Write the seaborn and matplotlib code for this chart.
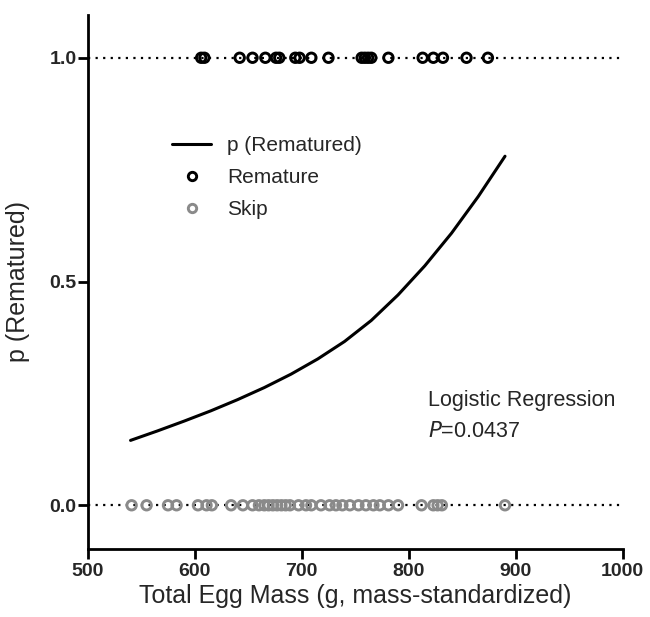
import numpy as np
import pandas as pd
import matplotlib
matplotlib.use("Agg")
import matplotlib.pyplot as plt
import seaborn as sns
from matplotlib.lines import Line2D

# Total egg mass (g, mass-standardized) for each female
remature_mass = [606, 609, 642, 654, 666, 676, 679, 694, 698, 709, 725,
                 756, 759, 762, 765, 781, 813, 823, 832, 854, 874]
skip_mass = [541, 555, 575, 583, 603, 611, 616, 634, 645, 654, 660, 665,
             669, 673, 677, 681, 685, 689, 697, 704, 709, 718, 726, 732,
             738, 745, 753, 760, 767, 773, 781, 790, 812, 823, 827, 831, 890]

# Fitted probability of rematuring along the observed mass range
fit_mass = [540, 565, 590, 615, 640, 665, 690, 715, 740, 765, 790, 815,
            840, 865, 890]
fit_p = [0.145, 0.166, 0.188, 0.211, 0.236, 0.263, 0.293, 0.327, 0.366,
         0.413, 0.470, 0.535, 0.608, 0.690, 0.780]

sns.set_theme(style="ticks")
plt.rcParams["font.family"] = ["Liberation Sans", "DejaVu Sans"]

fig = plt.figure(figsize=(6.5, 6.17), dpi=100)
ax = fig.add_axes([0.135, 0.110, 0.823, 0.866])

# Dotted reference lines at p = 0 and p = 1
for yv in (0.0, 1.0):
    ax.axhline(yv, color="black", lw=1.6, ls=(0, (1, 2.4)), zorder=1)

df_pts = pd.concat([
    pd.DataFrame({"mass": remature_mass, "p": 1.0, "group": "Remature"}),
    pd.DataFrame({"mass": skip_mass, "p": 0.0, "group": "Skip"}),
])

colors = {"Remature": "black", "Skip": "#8a8a8a"}
for grp, sub in df_pts.groupby("group"):
    sns.scatterplot(data=sub, x="mass", y="p", ax=ax, marker="o", s=46,
                    facecolor="none", edgecolor=colors[grp], linewidth=2.1,
                    zorder=3, legend=False)

curve = pd.DataFrame({"mass": fit_mass, "p": fit_p})
sns.lineplot(data=curve, x="mass", y="p", ax=ax, color="black", lw=2.2,
             zorder=4)

ax.set_xlim(500, 1000)
ax.set_ylim(-0.098, 1.096)
ax.set_xticks([500, 600, 700, 800, 900, 1000])
ax.set_yticks([0.0, 0.5, 1.0])
ax.set_yticklabels(["0.0", "0.5", "1.0"])

for side in ("top", "right"):
    ax.spines[side].set_visible(False)
for side in ("left", "bottom"):
    ax.spines[side].set_linewidth(2.0)
    ax.spines[side].set_color("black")
ax.tick_params(axis="both", length=7, width=2.0, color="black",
               labelsize=14)
ax.tick_params(axis="x", pad=3)
ax.tick_params(axis="y", pad=1)
for lab in ax.get_xticklabels() + ax.get_yticklabels():
    lab.set_fontweight("bold")

ax.set_xlabel("Total Egg Mass (g, mass-standardized)", fontsize=18,
              labelpad=3)
ax.set_ylabel("p (Rematured)", fontsize=18, labelpad=14)

handles = [
    Line2D([], [], color="black", lw=2.2),
    Line2D([], [], marker="o", ls="none", markersize=6,
           markerfacecolor="none", markeredgecolor="black",
           markeredgewidth=2.1),
    Line2D([], [], marker="o", ls="none", markersize=6,
           markerfacecolor="none", markeredgecolor="#8a8a8a",
           markeredgewidth=2.1),
]
ax.legend(handles, ["p (Rematured)", "Remature", "Skip"], frameon=False,
          fontsize=15, loc="upper left", bbox_to_anchor=(0.13, 0.80),
          handlelength=1.9, labelspacing=0.62, handletextpad=0.75,
          borderpad=0.2)

ax.text(818, 0.235, "Logistic Regression", fontsize=15.5, va="center",
        ha="left")
ax.text(818, 0.165, r"$\it{P}$=0.0437", fontsize=15.5, va="center",
        ha="left")

fig.savefig("out.png", dpi=100)
